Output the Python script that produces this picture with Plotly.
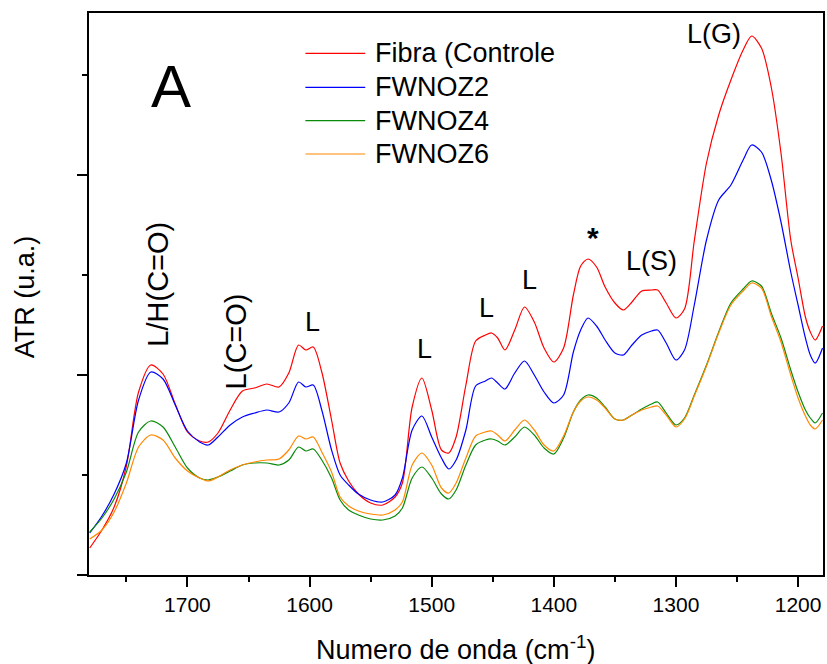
import plotly.graph_objects as go

wavenumber = [1780,1770,1760,1750,1740,1730,1720,1710,1700,1690,1683,1675,1665,1655,1645,1635,1625,1617,1609,1603,1597,1590,1582,1575,1568,1560,1550,1540,1530,1524,1516,1508,1500,1492,1486,1480,1472,1464,1456,1451,1446,1440,1432,1424,1416,1408,1400,1392,1384,1378,1372,1365,1358,1350,1343,1336,1328,1320,1315,1308,1300,1293,1285,1275,1265,1255,1245,1238,1230,1222,1214,1206,1200,1194,1190,1186,1180]

fibra = [0.27,0.45,0.68,1.09,1.83,2.10,2.01,1.71,1.43,1.34,1.33,1.42,1.65,1.84,1.87,1.91,1.88,2.02,2.30,2.25,2.28,2.03,1.55,1.12,0.94,0.81,0.72,0.70,0.78,0.92,1.68,1.97,1.65,1.25,1.22,1.38,1.90,2.34,2.40,2.42,2.37,2.25,2.45,2.68,2.53,2.27,2.13,2.27,2.80,3.09,3.16,3.08,2.88,2.72,2.65,2.73,2.84,2.85,2.85,2.72,2.57,2.66,3.34,4.12,4.60,4.95,5.25,5.39,5.27,4.88,4.22,3.35,2.97,2.58,2.43,2.35,2.49]

fwnoz2 = [0.42,0.59,0.81,1.12,1.75,2.03,1.96,1.70,1.44,1.33,1.30,1.38,1.50,1.58,1.62,1.65,1.63,1.72,1.93,1.88,1.90,1.65,1.25,1.00,0.90,0.81,0.75,0.73,0.80,0.97,1.45,1.59,1.38,1.17,1.06,1.15,1.45,1.89,1.94,1.97,1.92,1.86,2.02,2.14,2.00,1.83,1.72,1.80,2.23,2.45,2.57,2.49,2.35,2.22,2.20,2.30,2.40,2.44,2.45,2.32,2.15,2.25,2.70,3.35,3.75,3.90,4.15,4.30,4.23,3.95,3.53,3.03,2.70,2.37,2.20,2.12,2.27]

fwnoz4 = [0.43,0.57,0.76,1.03,1.43,1.54,1.48,1.28,1.07,0.97,0.95,0.98,1.04,1.10,1.12,1.12,1.10,1.15,1.28,1.24,1.26,1.15,0.97,0.75,0.65,0.60,0.56,0.55,0.59,0.67,0.97,1.08,0.97,0.81,0.76,0.85,1.10,1.30,1.35,1.36,1.34,1.30,1.38,1.48,1.40,1.27,1.21,1.37,1.63,1.75,1.80,1.77,1.68,1.56,1.55,1.60,1.66,1.71,1.73,1.62,1.50,1.57,1.80,2.10,2.43,2.72,2.86,2.94,2.89,2.62,2.37,2.05,1.83,1.65,1.57,1.52,1.62]

fwnoz6 = [0.36,0.45,0.63,0.92,1.28,1.40,1.35,1.17,1.04,0.97,0.94,0.98,1.05,1.10,1.13,1.15,1.16,1.25,1.39,1.36,1.38,1.23,1.03,0.78,0.69,0.64,0.61,0.60,0.65,0.73,1.10,1.22,1.10,0.87,0.82,0.92,1.17,1.39,1.43,1.44,1.40,1.34,1.45,1.55,1.45,1.30,1.24,1.39,1.63,1.74,1.78,1.75,1.67,1.56,1.55,1.60,1.65,1.68,1.69,1.60,1.48,1.56,1.79,2.09,2.42,2.70,2.84,2.92,2.87,2.59,2.33,2.00,1.77,1.59,1.50,1.46,1.55]

series_names = ["Fibra (Controle", "FWNOZ2", "FWNOZ4", "FWNOZ6"]
series_colors = ["#ff0000", "#0000ff", "#0a8a0a", "#ff8800"]
series_values = [fibra, fwnoz2, fwnoz4, fwnoz6]

# peak labels: (text, wavenumber, y, angle, size)
peak_labels = [
    ("L/H(C=O)", 1724.4, 2.91, -90, 29),
    ("L(C=O)", 1659.9, 2.34, -90, 29),
    ("L", 1597.8, 2.53, 0, 27),
    ("L", 1506.3, 2.26, 0, 27),
    ("L", 1454.8, 2.67, 0, 27),
    ("L", 1419.7, 2.95, 0, 27),
    ("<b>*</b>", 1368.2, 3.38, 0, 30),
    ("L(S)", 1320.0, 3.14, 0, 27),
    ("L(G)", 1268.6, 5.41, 0, 27),
]

FONT = "Liberation Sans, Arial, sans-serif"
W, H = 827, 664
ML, MR, MT, MB = 89, 2, 13, 89
PW, PH = W - ML - MR, H - MT - MB

def px(x):
    return (x - ML) / PW

def py(y):
    return (H - MB - y) / PH

fig = go.Figure()
for name, color, vals in zip(series_names, series_colors, series_values):
    fig.add_trace(go.Scatter(x=wavenumber, y=vals, mode="lines", name=name,
                             line=dict(color=color, width=1.2, shape="spline", smoothing=0.8),
                             showlegend=False))

annotations = []
for text, xv, yv, ang, size in peak_labels:
    annotations.append(dict(x=xv, y=yv, xref="x", yref="y", text=text, showarrow=False,
                            textangle=ang, font=dict(family=FONT, size=size, color="black"),
                            xanchor="center", yanchor="middle"))
annotations.append(dict(x=1713.8, y=4.89, xref="x", yref="y", text="A", showarrow=False,
                        font=dict(family=FONT, size=60, color="black"),
                        xanchor="center", yanchor="middle"))

# custom legend
shapes = []
leg_rows = [53.3, 87.3, 120.7, 154.0]
for name, color, yy in zip(series_names, series_colors, leg_rows):
    shapes.append(dict(type="line", xref="paper", yref="paper", x0=px(306), x1=px(366),
                       y0=py(yy), y1=py(yy), line=dict(color=color, width=1.2)))
    annotations.append(dict(x=px(374), y=py(yy), xref="paper", yref="paper", text=name,
                            showarrow=False, xanchor="left", yanchor="middle",
                            font=dict(family=FONT, size=27, color="black")))

# axis titles
annotations.append(dict(x=px(25), y=py(297), xref="paper", yref="paper", text="ATR (u.a.)",
                        showarrow=False, textangle=-90, xanchor="center", yanchor="middle",
                        font=dict(family=FONT, size=27, color="black")))
annotations.append(dict(x=px(456), y=py(648), xref="paper", yref="paper",
                        text="Numero de onda (cm<sup>-1</sup>)",
                        showarrow=False, xanchor="center", yanchor="middle",
                        font=dict(family=FONT, size=27, color="black")))

fig.update_layout(
    width=W, height=H,
    margin=dict(l=ML, r=MR, t=MT, b=MB, pad=0),
    plot_bgcolor="white", paper_bgcolor="white",
    annotations=annotations, shapes=shapes,
    font=dict(family=FONT, color="black"),
)
fig.update_xaxes(range=[1780.6, 1179.6], tick0=1200, dtick=100, ticks="outside", ticklen=10,
                 tickwidth=2, tickcolor="black", showline=True, linecolor="black", linewidth=2,
                 mirror=True, showgrid=False, zeroline=False,
                 tickfont=dict(family=FONT, size=21, color="black"),
                 minor=dict(dtick=50, ticks="outside", ticklen=5, tickwidth=2, tickcolor="black",
                            showgrid=False))
fig.update_yaxes(range=[0, 5.62], tick0=0, dtick=2, ticks="outside", ticklen=10,
                 tickwidth=2, tickcolor="black", showline=True, linecolor="black", linewidth=2,
                 mirror=True, showgrid=False, zeroline=False, showticklabels=False,
                 minor=dict(dtick=1, ticks="outside", ticklen=5, tickwidth=2, tickcolor="black",
                            showgrid=False))

fig.write_html("out.html")
